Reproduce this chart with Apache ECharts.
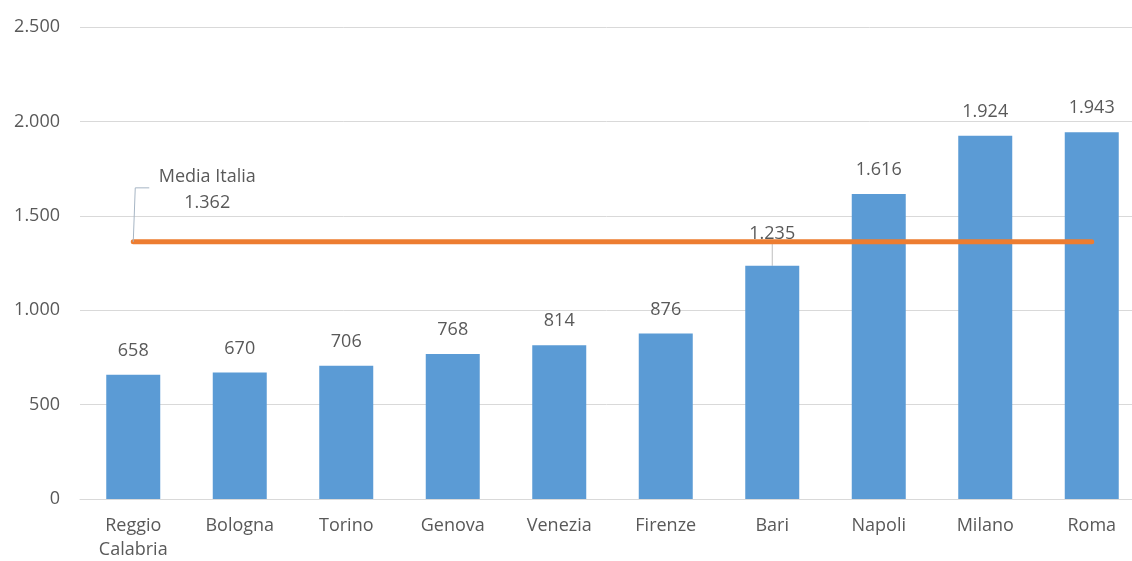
<!DOCTYPE html>
<html><head><meta charset="utf-8">
<script src="https://cdn.jsdelivr.net/npm/echarts@6/dist/echarts.min.js"></script>
<style>html,body{margin:0;padding:0;background:#fff}#c{width:1132px;height:561px}</style>
</head><body><div id="c"></div>
<script>
const categories = ['Reggio\nCalabria','Bologna','Torino','Genova','Venezia','Firenze','Bari','Napoli','Milano','Roma'];
const values = [658, 670, 706, 768, 814, 876, 1235, 1616, 1924, 1943];
const mediaItalia = [1362, 1362, 1362, 1362, 1362, 1362, 1362, 1362, 1362, 1362];
const yTicks = {min: 0, max: 2500, interval: 500};

const fmt = v => String(v).replace(/\B(?=(\d{3})+(?!\d))/g, '.');
const FONT = 'Open Sans';
const TXT = '#595959';
const FS = 18;

const chart = echarts.init(document.getElementById('c'));
chart.setOption({
  animation: false,
  grid: {left: 80, width: 1065, top: 27, bottom: 62, containLabel: false, outerBoundsMode: 'none'},
  xAxis: {
    type: 'category', data: categories,
    axisLine: {lineStyle: {color: '#D9D9D9', width: 1}},
    axisTick: {show: false},
    axisLabel: {color: TXT, fontFamily: FONT, fontSize: FS, margin: 15, lineHeight: 24}
  },
  yAxis: {
    type: 'value', min: yTicks.min, max: yTicks.max, interval: yTicks.interval,
    axisLine: {show: false}, axisTick: {show: false},
    splitLine: {lineStyle: {color: '#D9D9D9', width: 1}},
    axisLabel: {color: TXT, fontFamily: FONT, fontSize: FS, margin: 20, formatter: v => fmt(v)}
  },
  series: [
    {
      type: 'bar', barWidth: 54, z: 2,
      itemStyle: {color: '#5B9BD5'},
      data: values.map((v, i) => categories[i] === 'Bari'
        ? {value: v, labelLine: {show: true, lineStyle: {color: '#BFBFBF', width: 1}}}
        : {value: v}),
      label: {show: true, position: 'top', distance: 15, color: TXT, fontFamily: FONT, fontSize: FS, formatter: p => fmt(p.value)},
      labelLayout: p => (categories[p.dataIndex] === 'Bari' ? {dy: -8} : {}),
      labelLine: {show: false}
    },
    {
      type: 'line', z: 3, symbol: 'circle', symbolSize: 0, showSymbol: true,
      lineStyle: {color: '#ED7D31', width: 5, cap: 'round'},
      itemStyle: {color: '#ED7D31'},
      data: mediaItalia.map((v, i) => i === 0 ? {
        value: v,
        label: {show: true, position: 'top', distance: 0, color: TXT, fontFamily: FONT, fontSize: FS, lineHeight: 26, align: 'center',
          formatter: p => 'Media Italia\n' + fmt(p.value)}
      } : {value: v}),
      label: {show: false},
      labelLayout: p => (p.dataIndex === 0 ? {dx: 74, dy: -26} : {})
    }
  ]
});

// elbow leader line for the "Media Italia" annotation, anchored on the first line point
const pt = chart.convertToPixel({seriesIndex: 1}, [0, mediaItalia[0]]);
chart.setOption({
  graphic: [{
    type: 'polyline', z: 10, silent: true,
    shape: {points: [[pt[0], pt[1]], [pt[0] + 2, pt[1] - 54], [pt[0] + 16, pt[1] - 54]]},
    style: {stroke: '#A6B5C4', lineWidth: 1, fill: null}
  }]
});
</script></body></html>
